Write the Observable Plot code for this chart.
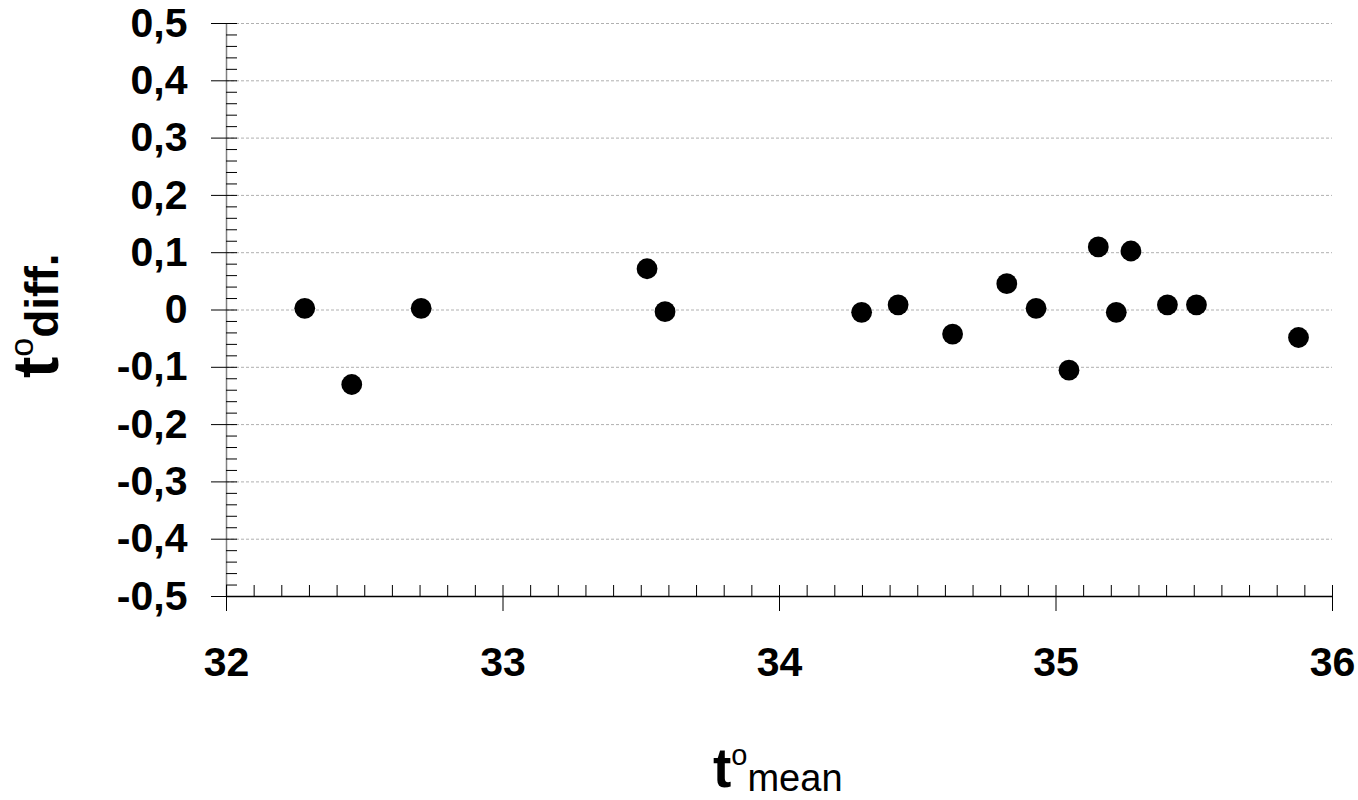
<!DOCTYPE html>
<html>
<head>
<meta charset="utf-8">
<script src="https://cdn.jsdelivr.net/npm/d3@7"></script>
<script src="https://cdn.jsdelivr.net/npm/@observablehq/plot@0.6"></script>
<style>
  html, body { margin: 0; padding: 0; background: #fff; }
  #chart svg { display: block; }
</style>
</head>
<body>
<div id="chart"></div>
<script>
// ---- data ----
const tMean = [32.283, 32.453, 32.704, 33.521, 33.586, 34.297, 34.429, 34.626, 34.822, 34.928, 35.047, 35.153, 35.218, 35.271, 35.403, 35.508, 35.877];
const tDiff = [0.003, -0.130, 0.003, 0.072, -0.003, -0.004, 0.009, -0.042, 0.046, 0.003, -0.105, 0.110, -0.004, 0.103, 0.009, 0.009, -0.048];

const xTicks = [32, 33, 34, 35, 36];
const yTicks = [0.5, 0.4, 0.3, 0.2, 0.1, 0, -0.1, -0.2, -0.3, -0.4, -0.5];
const yTickLabels = ["0,5", "0,4", "0,3", "0,2", "0,1", "0", "-0,1", "-0,2", "-0,3", "-0,4", "-0,5"];
const xMinor = d3.range(32, 36.0001, 0.1).map(v => +v.toFixed(1)).filter(v => !xTicks.includes(v));
const yMinor = d3.range(-0.5, 0.5001, 0.02).map(v => +v.toFixed(2)).filter(v => !yTicks.some(t => Math.abs(t - v) < 1e-9));

const points = tMean.map((x, i) => ({x, y: tDiff[i]}));
const yLabel = new Map(yTicks.map((v, i) => [v, yTickLabels[i]]));

// ---- chart ----
const W = 1358, H = 800;
const svg = Plot.plot({
  width: W,
  height: H,
  marginLeft: 226,
  marginRight: 26,
  marginTop: 23,
  marginBottom: 204,
  style: {fontFamily: "'Liberation Sans', Arial, sans-serif", background: "#fff", color: "#000"},
  x: {domain: [32, 36]},
  y: {domain: [-0.5, 0.5]},
  marks: [
    Plot.gridY(yTicks, {stroke: "#b0b0b0", strokeOpacity: 1, strokeDasharray: "3,2"}),
    Plot.ruleX([32], {stroke: "#808080", strokeWidth: 1.5}),
    Plot.ruleY([-0.5], {stroke: "#000", strokeWidth: 1.5}),
    // y major ticks crossing the axis, with labels
    Plot.axisY(yTicks, {tickSize: 26, dx: 11, tickPadding: 24, tickFormat: d => yLabel.get(d),
      fontSize: 41, fontWeight: "bold", label: null, stroke: "#000"}),
    // y minor ticks inside
    Plot.axisY(yMinor, {tickSize: 11, dx: 11, fill: "none", label: null, stroke: "#000"}),
    // x major ticks crossing the axis, with labels
    Plot.axisX(xTicks, {tickSize: 26, dy: -11, tickPadding: 35, tickFormat: d => String(d),
      fontSize: 41, fontWeight: "bold", label: null, stroke: "#000"}),
    // x minor ticks inside
    Plot.axisX(xMinor, {tickSize: 11, dy: -11, fill: "none", label: null, stroke: "#000"}),
    Plot.dot(points, {x: "x", y: "y", r: 10.4, fill: "#000", stroke: "none"})
  ]
});

const s = d3.select(svg);
// x-axis title: t°mean
const xt = s.append("text")
  .attr("x", 713).attr("y", 787)
  .attr("text-anchor", "start")
  .attr("font-family", "'Liberation Sans', Arial, sans-serif")
  .attr("fill", "#000");
xt.append("tspan").attr("font-size", 55).attr("font-weight", "bold").text("t");
xt.append("tspan").attr("font-size", 29).attr("dy", -22).text("o");
xt.append("tspan").attr("font-size", 38).attr("dy", 26).text("mean");

// y-axis title: t°diff. (rotated)
const yt = s.append("text")
  .attr("transform", "translate(58,378) rotate(-90)")
  .attr("text-anchor", "start")
  .attr("font-family", "'Liberation Sans', Arial, sans-serif")
  .attr("fill", "#000");
yt.append("tspan").attr("font-size", 64).attr("font-weight", "bold").text("t");
yt.append("tspan").attr("font-size", 34).attr("dy", -25).text("o");
yt.append("tspan").attr("font-size", 46).attr("font-weight", "bold").attr("dy", 25).text("diff.");

document.getElementById("chart").appendChild(svg);
</script>
</body>
</html>
